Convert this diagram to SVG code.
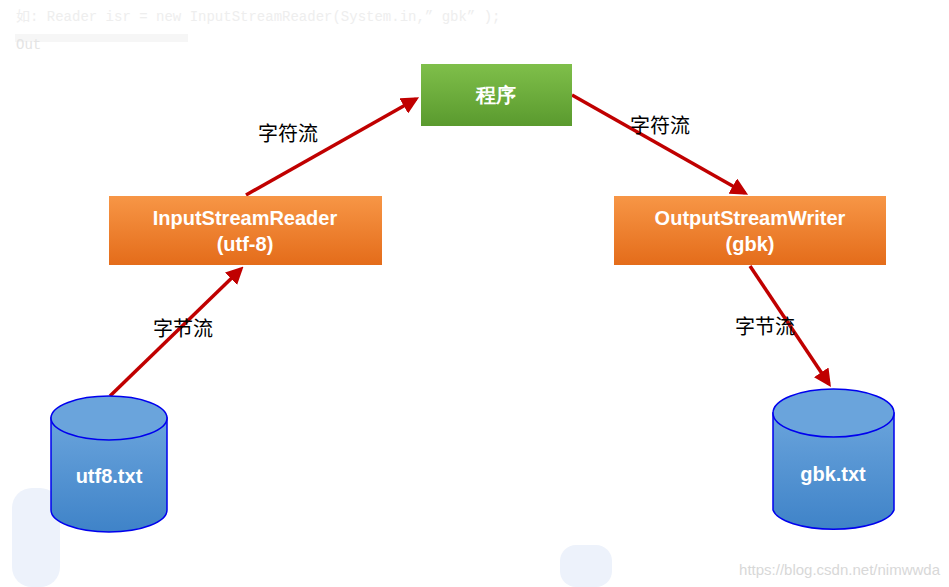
<svg xmlns="http://www.w3.org/2000/svg" width="949" height="587" viewBox="0 0 949 587">
<style>
.bt{font-family:"Liberation Sans",Arial,sans-serif;font-weight:bold;fill:#fff;text-anchor:middle}
.lb{font-family:"Noto Sans CJK SC",sans-serif;font-size:20px;fill:#000}
.cy{stroke:#0000ee;stroke-width:1.5}
.ar{stroke:#c00000;stroke-width:3.5;fill:none;marker-end:url(#ah)}
</style>
<defs>
<marker id="ah" markerWidth="5" markerHeight="5" refX="4" refY="2.5" orient="auto"><path d="M0,0L5,2.5L0,5Z" fill="#c00000"/></marker>
<linearGradient id="og" x1="0" y1="0" x2="0" y2="1"><stop offset="0" stop-color="#f79646"/><stop offset="1" stop-color="#e46c1a"/></linearGradient>
<linearGradient id="gg" x1="0" y1="0" x2="0" y2="1"><stop offset="0" stop-color="#7fbf4a"/><stop offset="1" stop-color="#5a9a2e"/></linearGradient>
<linearGradient id="bg" x1="0" y1="0" x2="0" y2="1"><stop offset="0" stop-color="#6aa4dc"/><stop offset="1" stop-color="#3f83c8"/></linearGradient>
</defs>
<rect width="949" height="587" fill="#fff"/>
<g id="bgdeco" fill="#edf2fb">
<rect x="12" y="488" width="48" height="99" rx="20"/>
<rect x="560" y="545" width="52" height="42" rx="16"/>
</g>
<text x="16" y="21" font-family="'Liberation Mono','Noto Sans CJK SC',monospace" font-size="14" fill="#eeeeee">如: Reader isr = new InputStreamReader(System.in,” gbk” );</text>
<rect x="15" y="34" width="173" height="8" fill="#f6f6f6"/>
<text x="16" y="49" font-family="'Liberation Mono',monospace" font-size="14" fill="#e4e4e4">Out</text>
<g id="connectors">
<line class="ar" x1="110" y1="396" x2="241" y2="269"/>
<line class="ar" x1="246" y1="195" x2="416" y2="99"/>
<line class="ar" x1="572" y1="95" x2="745" y2="193"/>
<line class="ar" x1="750" y1="266" x2="829" y2="384"/>
</g>
<text class="lb" x="258" y="141">字符流</text>
<text class="lb" x="630" y="133">字符流</text>
<text class="lb" x="153" y="336">字节流</text>
<text class="lb" x="735" y="334">字节流</text>
<g id="program"><rect x="421" y="64" width="151" height="62" fill="url(#gg)"/><text class="bt" x="496" y="102" font-size="20">程序</text></g>
<g id="isr"><rect x="109" y="196" width="273" height="69" fill="url(#og)"/><text class="bt" x="245" y="225" font-size="20">InputStreamReader</text><text class="bt" x="245" y="251" font-size="20">(utf-8)</text></g>
<g id="osw"><rect x="614" y="196" width="272" height="69" fill="url(#og)"/><text class="bt" x="750" y="225" font-size="20">OutputStreamWriter</text><text class="bt" x="750" y="251" font-size="20">(gbk)</text></g>
<g id="utf8"><path class="cy" d="M51,418V510A58,22 0 0 0 167,510V418Z" fill="url(#bg)"/><ellipse class="cy" cx="109" cy="418" rx="58" ry="22" fill="#6aa4dc"/><text class="bt" x="109" y="483" font-size="20">utf8.txt</text></g>
<g id="gbk"><path class="cy" d="M773,413V510A61,22 0 0 0 894,510V413Z" fill="url(#bg)"/><ellipse class="cy" cx="833.5" cy="413" rx="60.5" ry="24" fill="#6aa4dc"/><text class="bt" x="833" y="481" font-size="20">gbk.txt</text></g>
<text x="940" y="575" text-anchor="end" font-family="'Liberation Sans',sans-serif" font-size="15" fill="#d8d8d8">https://blog.csdn.net/nimwwda</text>
</svg>
